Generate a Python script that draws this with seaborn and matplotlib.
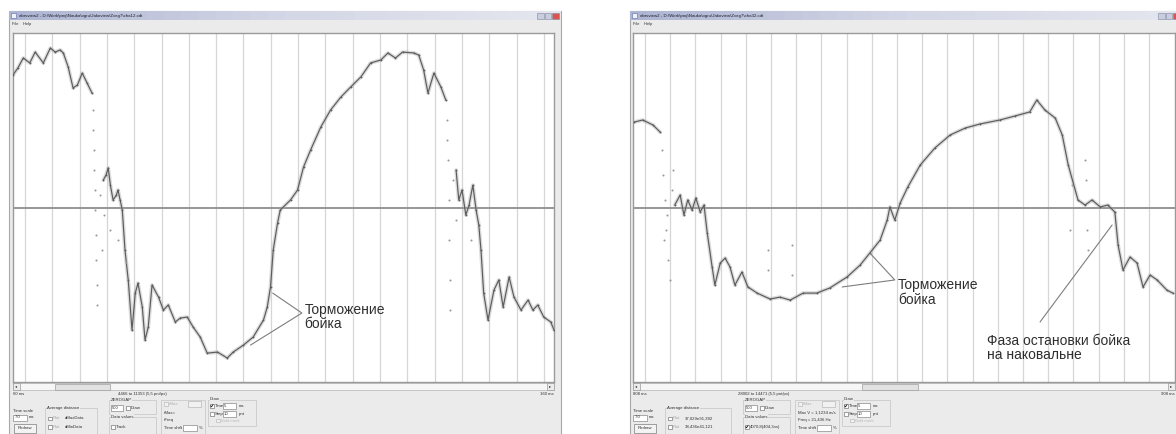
import numpy as np
import pandas as pd
import matplotlib
matplotlib.use("Agg")
import matplotlib.pyplot as plt
import seaborn as sns
from matplotlib.patches import Rectangle

sns.set_theme(style="white")
plt.rcParams['font.family'] = ['Liberation Sans', 'DejaVu Sans']

# ---------------- oscillogram data (time, ms / amplitude, % of full scale) ----------------
# Record 1, window 60..160 ms
rec1_seg1_t = [60.0, 60.9, 61.9, 63.1, 64.1, 65.6, 66.9, 67.8, 68.7, 69.3, 70.2, 71.1, 71.9, 72.8, 73.7, 74.6]
rec1_seg1_a = [76.0, 80.0, 85.7, 82.9, 89.1, 82.9, 91.4, 89.1, 90.3, 88.6, 80.6, 68.6, 70.3, 77.1, 71.4, 65.7]

rec1_seg2_t = [76.7, 77.2, 77.6, 78.0, 78.5, 79.1, 79.4, 79.8, 80.2, 80.7, 81.3, 82.0, 82.6, 83.1, 83.9, 84.4,
               85.0, 85.7, 86.9, 87.8, 88.7, 90.0, 90.9, 92.2, 93.3, 94.6, 95.9, 97.8, 99.6, 100.7, 102.6,
               104.4, 106.3, 107.0, 107.6, 108.1, 108.9, 109.4, 111.3, 112.6, 113.7, 115.0, 116.9, 118.7,
               120.6, 122.4, 124.3, 126.1, 128.0, 129.3, 130.7, 132.0, 134.1, 135.0, 135.9, 136.7, 137.8,
               139.1, 140.0]
rec1_seg2_a = [16.0, 18.9, 22.9, 13.1, 4.6, 7.4, 10.3, 4.6, -1.1, -24.0, -41.1, -69.7, -48.6, -42.9, -56.6,
               -75.4, -68.0, -44.0, -50.9, -58.3, -55.4, -65.1, -62.9, -62.3, -68.0, -73.7, -82.9, -82.3,
               -85.7, -82.3, -78.3, -73.7, -64.0, -56.6, -45.1, -24.0, -8.6, -1.1, 4.6, 10.3, 23.4, 33.1,
               46.3, 56.0, 63.4, 69.1, 74.9, 82.9, 84.6, 88.6, 85.7, 89.1, 88.6, 87.4, 78.9, 65.7, 77.1,
               69.1, 61.7]

rec1_seg3_t = [141.9, 142.4, 143.0, 143.7, 144.3, 145.0, 145.6, 146.1, 146.5, 147.0, 147.8, 148.9, 149.8,
               150.6, 151.7, 152.6, 153.9, 155.2, 156.1, 157.0, 158.1, 159.4, 160.0]
rec1_seg3_a = [21.7, 4.6, 10.3, -4.0, 1.7, 13.1, -1.1, -9.7, -24.0, -48.6, -64.0, -46.9, -41.1, -56.6,
               -39.4, -50.9, -58.3, -52.6, -58.3, -55.4, -62.3, -65.1, -69.7]

# isolated samples during the fast transitions
rec1_dots_t = [74.8, 74.8, 75.0, 75.0, 75.2, 75.2, 75.4, 75.4, 75.6, 75.6, 76.1, 76.9, 78.0, 79.4, 80.9,
               76.5, 140.2, 140.2, 140.4, 140.6, 140.6, 140.7, 140.7, 141.3, 141.9, 144.6]
rec1_dots_a = [56.0, 44.6, 33.1, 21.7, 10.3, -1.1, -15.4, -29.7, -44.0, -55.4, 7.4, -4.0, -12.6, -18.3,
               -30.9, -24.0, 50.3, 38.9, 27.4, 4.6, -18.3, -41.1, -58.3, 16.0, -6.9, -18.3]

# Record 2, window 808..908 ms
rec2_seg1_t = [808.2, 809.8, 811.7, 813.0]
rec2_seg1_a = [49.1, 50.3, 47.4, 43.4]

rec2_seg2_t = [815.7, 816.7, 817.4, 818.1, 818.9, 819.6, 820.4, 821.1, 821.7, 822.6, 823.1, 824.1, 825.0,
               825.9, 826.8, 828.1, 829.2, 830.9, 833.3, 835.1, 837.0, 839.4, 841.9, 844.3, 847.5, 849.9,
               851.7, 853.6, 854.9, 855.4, 856.3, 857.3, 858.7, 861.0, 863.7, 866.5, 869.3, 872.0, 875.7,
               878.5, 881.2, 882.5, 884.0, 885.9, 887.2, 888.3, 890.1, 891.4, 892.7, 894.2, 895.6, 896.9,
               897.5, 898.4, 899.7, 901.0, 902.1, 903.4, 904.7, 906.5, 907.6]
rec2_seg2_a = [1.7, 7.4, -4.0, 4.6, -1.1, 5.7, -2.3, 1.7, -14.3, -33.7, -44.0, -31.4, -28.6, -33.7, -44.0,
               -36.6, -45.1, -48.6, -52.0, -50.9, -52.6, -48.6, -48.6, -45.7, -39.4, -32.6, -25.7, -18.3,
               -6.9, 0.6, -6.9, 2.9, 12.0, 24.6, 34.3, 41.7, 45.7, 48.0, 50.3, 52.6, 54.9, 61.7, 56.0, 51.4,
               41.7, 24.6, 4.6, 1.7, 4.6, 0.6, 1.7, -2.3, -21.1, -35.4, -28.0, -31.4, -45.1, -38.3, -41.1,
               -46.9, -48.6]

rec2_dots_t = [813.4, 813.5, 813.9, 814.1, 814.5, 814.8, 813.7, 814.3, 815.2, 815.4, 832.9, 832.9, 837.3,
               837.3, 889.0, 891.4, 891.6, 891.8, 891.9, 888.6]
rec2_dots_a = [33.1, 18.9, 4.6, -12.6, -29.7, -41.1, -18.3, -4.0, 10.3, 21.7, -24.0, -35.4, -21.1, -38.3,
               13.1, 27.4, 16.0, -12.6, -24.0, -12.6]

W, H = 1176, 434
fig = plt.figure(figsize=(W / 100, H / 100), dpi=100)
fig.patch.set_facecolor("white")

bg = fig.add_axes([0, 0, 1, 1])
bg.set_zorder(0)

WIN_BG = "#ebebeb"
TXT = "#303030"
FS = 3.1


def px_axes(x0, y0, x1, y1):
    return fig.add_axes([x0 / W, 1 - y1 / H, (x1 - x0) / W, (y1 - y0) / H])


def box(x, y, w, h, face="white", edge="#8a8a8a", lw=0.5, z=2):
    bg.add_patch(Rectangle((x, y), w, h, facecolor=face, edgecolor=edge, lw=lw, zorder=z))


def label(x, y, s, color=TXT, size=FS, ha="left", z=4):
    bg.text(x, y, s, fontsize=size, color=color, ha=ha, va="center", zorder=z)


def checkbox(x, y, checked=False, enabled=True):
    box(x, y, 3.6, 3.6, face="white" if enabled else "#f2f2f2",
        edge="#7a7a7a" if enabled else "#bdbdbd", z=3)
    if checked:
        bg.plot([x + 0.7, x + 1.5, x + 3.0], [y + 1.8, y + 2.9, y + 0.6],
                color="#202020", lw=0.6, zorder=4)


def group(x0, y0, x1, y1, title=None):
    bg.add_patch(Rectangle((x0, y0), x1 - x0, y1 - y0, facecolor="none",
                           edgecolor="#c4c4c4", lw=0.5, zorder=2))
    if title:
        bg.text(x0 + 2, y0, title, fontsize=FS, color=TXT, va="center", zorder=4,
                bbox=dict(facecolor=WIN_BG, edgecolor="none", pad=0.2))


def window(x0, x1, pl, pr, title, t_left, t_mid, t_right, thumb, avg, values, meas, checked_values):
    # frame
    box(x0, 11, x1 - x0, 425, face=WIN_BG, edge="#a9a9a9", lw=0.8, z=1)
    # title bar gradient
    grad = np.linspace(0, 1, 32).reshape(1, -1)
    cmap = matplotlib.colors.LinearSegmentedColormap.from_list("tb", ["#aeb5d2", "#d3d7e6", "#e4e6ee"])
    bg.imshow(grad, extent=(x0, x1, 20, 11), aspect="auto", cmap=cmap, zorder=2)
    box(x0 + 2, 12.5, 5, 5.5, face="#eef2fb", edge="#6f7fae", lw=0.5, z=3)
    label(x0 + 10, 15.6, title, size=3.2, color="#1c1c2c")
    for i, fc in enumerate(["#c9cedf", "#c9cedf", "#d9534f"]):
        box(x1 - 24 + i * 7.5, 12.5, 6.5, 6, face=fc, edge="#7f86a0", lw=0.4, z=3)
    # menu
    label(x0 + 3, 24.5, "File    Help", size=2.9)
    # scrollbar below the plot
    box(pl, 383, pr - pl, 7, face="#f6f6f6", edge="#b5b5b5", z=2)
    box(pl, 383, 7, 7, face="#ececec", edge="#9a9a9a", z=3)
    box(pr - 7, 383, 7, 7, face="#ececec", edge="#9a9a9a", z=3)
    label(pl + 3.5, 386.5, "◂", size=3, ha="center")
    label(pr - 3.5, 386.5, "▸", size=3, ha="center")
    box(thumb[0], 383.5, thumb[1] - thumb[0], 6, face="#e2e2e2", edge="#9e9e9e", z=3)
    label(pl, 394, t_left)
    label(pl + 105, 393.5, t_mid)
    label(pr, 394, t_right, ha="right")
    # time scale + redraw
    label(pl, 410.5, "Time scale")
    box(pl, 414.5, 14, 6)
    label(pl + 1.5, 417.5, "7.0")
    label(pl + 16, 417.5, "ms")
    box(pl + 1, 424, 22, 8.5, face="#f3f3f3", edge="#7d7d7d")
    label(pl + 12, 428.3, "Redraw", ha="center")
    # average distance
    aw = avg[2]
    group(pl + 32, 408, pl + 32 + aw, 433.5, "Average distance")
    for j, yy in enumerate([416.5, 425]):
        checkbox(pl + 35, yy)
        label(pl + 40, yy + 1.8, "Plot", color="#a8a8a8")
        label(pl + 52, yy + 1.8, avg[j])
    # zerogap
    gx = pl + 32 + aw + 12
    group(gx, 400, gx + 47, 413.5, "ZEROGAP")
    box(gx + 2, 405, 12, 6)
    label(gx + 3, 408, "500")
    checkbox(gx + 17, 406)
    label(gx + 22, 407.8, "Draw")
    group(gx, 416.5, gx + 47, 433.5, "Data values")
    checkbox(gx + 2, 425, checked=checked_values)
    label(gx + 7, 426.8, values)
    # measurement group
    mx = gx + 52
    group(mx, 399.5, mx + 44, 433.5)
    checkbox(mx + 3, 402, enabled=False)
    label(mx + 8, 403.8, "rMax", color="#b0b0b0")
    box(mx + 27, 401, 13, 6, face="#f1f1f1", edge="#b9b9b9")
    label(mx + 3, 412.5, meas[0])
    label(mx + 3, 419.5, meas[1])
    label(mx + 3, 427.8, "Time shift")
    box(mx + 22, 424.8, 14, 6)
    label(mx + 38, 427.8, "%")
    # draw group
    dx = mx + 47
    group(dx, 399.5, dx + 48, 425.5, "Draw")
    checkbox(dx + 2, 404, checked=True)
    label(dx + 7, 405.8, "Time")
    box(dx + 15, 403, 13, 6)
    label(dx + 16, 406, "5")
    label(dx + 31, 406, "ms")
    checkbox(dx + 2, 412)
    label(dx + 7, 413.8, "Step")
    box(dx + 15, 411, 13, 6)
    label(dx + 16, 414, "10")
    label(dx + 31, 414, "pnt")
    checkbox(dx + 8, 418.8, enabled=False)
    label(dx + 13, 420.6, "Bold mark", color="#bdbdbd")


window(9, 561, 13, 554,
       r"abrsview2 - D:\Work\proj\Nauka\ogru\Jakoview\Zveg7\cha12.cdt",
       "60 ms", "4466 to 11353 (5,5 pnt/px)", "160 ms", (55, 110),
       ("dMaxData", "dMinData", 52), "Track", ("rMax=", "rFreq"), False)
window(630, 1182, 633, 1175,
       r"abrsview2 - D:\Work\proj\Nauka\ogru\Jakoview\Zveg7\cha32.cdt",
       "808 ms", "28002 to 14471 (5,5 pnt/px)", "908 ms", (862, 918),
       ("37,029e91,382", "38,436e41,121", 66), "4070,8(404,3ns)",
       ("Max V = 1,1234 m/s", "Freq = 21,436 Hz"), True)

bg.set_xlim(0, W)
bg.set_ylim(H, 0)
bg.axis("off")


def frame(ax, t0, t1, grid_start, grid_step, n_grid):
    ax.set_facecolor("white")
    ax.set_xlim(t0, t1)
    ax.set_ylim(-99.4, 100)
    for k in range(n_grid):
        ax.axvline(grid_start + k * grid_step, color="#d6d6d6", lw=0.9, zorder=1)
    ax.axhline(0, color="#8e8e8e", lw=1.3, zorder=2)
    ax.set_xticks([])
    ax.set_yticks([])
    for sp in ax.spines.values():
        sp.set_color("#9a9a9a")
        sp.set_linewidth(1.0)


def trace(ax, segments, dots_t, dots_a):
    frames = []
    for i, (t, a) in enumerate(segments):
        frames.append(pd.DataFrame({"t": t, "a": a, "seg": i}))
    df = pd.concat(frames, ignore_index=True)
    # soft band of the scattered samples around the trace
    sns.lineplot(data=df, x="t", y="a", units="seg", estimator=None, sort=False,
                 color="#a8a8a8", lw=2.8, alpha=0.4, ax=ax, zorder=3)
    sns.lineplot(data=df, x="t", y="a", units="seg", estimator=None, sort=False,
                 color="#5c5c5c", lw=0.85, marker="o", markersize=1.3, markeredgewidth=0,
                 ax=ax, zorder=4)
    sns.scatterplot(x=dots_t, y=dots_a, s=2.2, color="#9a9a9a", linewidth=0, ax=ax, zorder=4)
    ax.set_xlabel("")
    ax.set_ylabel("")


ANN = dict(color="#7d7d7d", lw=0.8, zorder=5)
TFS = 10

ax1 = px_axes(13, 33, 554, 382)
ax1.set_zorder(3)
frame(ax1, 60, 160, 62.2, 5.05, 20)
trace(ax1, [(rec1_seg1_t, rec1_seg1_a), (rec1_seg2_t, rec1_seg2_a), (rec1_seg3_t, rec1_seg3_a)],
      rec1_dots_t, rec1_dots_a)
ax1.plot([108.0, 113.4, 103.9], [-48.6, -60.0, -78.3], **ANN)
ax1.text(113.9, -62.3, "Торможение\nбойка", fontsize=TFS, color="#2e2e2e",
         va="center", ha="left", linespacing=1.05, zorder=6)

ax2 = px_axes(633, 33, 1175, 382)
ax2.set_zorder(3)
frame(ax2, 808, 908, 810.2, 4.65, 21)
trace(ax2, [(rec2_seg1_t, rec2_seg1_a), (rec2_seg2_t, rec2_seg2_a)], rec2_dots_t, rec2_dots_a)
ax2.plot([851.7, 856.3, 846.6], [-25.7, -41.1, -45.1], **ANN)
ax2.text(856.9, -48.3, "Торможение\nбойка", fontsize=TFS, color="#2e2e2e",
         va="center", ha="left", linespacing=1.05, zorder=6)
ax2.plot([883.1, 896.4], [-65.1, -9.7], **ANN)
ax2.text(873.3, -80.0, "Фаза остановки бойка\nна наковальне", fontsize=TFS, color="#2e2e2e",
         va="center", ha="left", linespacing=1.05, zorder=6)

fig.savefig("out.png", dpi=100, facecolor="white")
